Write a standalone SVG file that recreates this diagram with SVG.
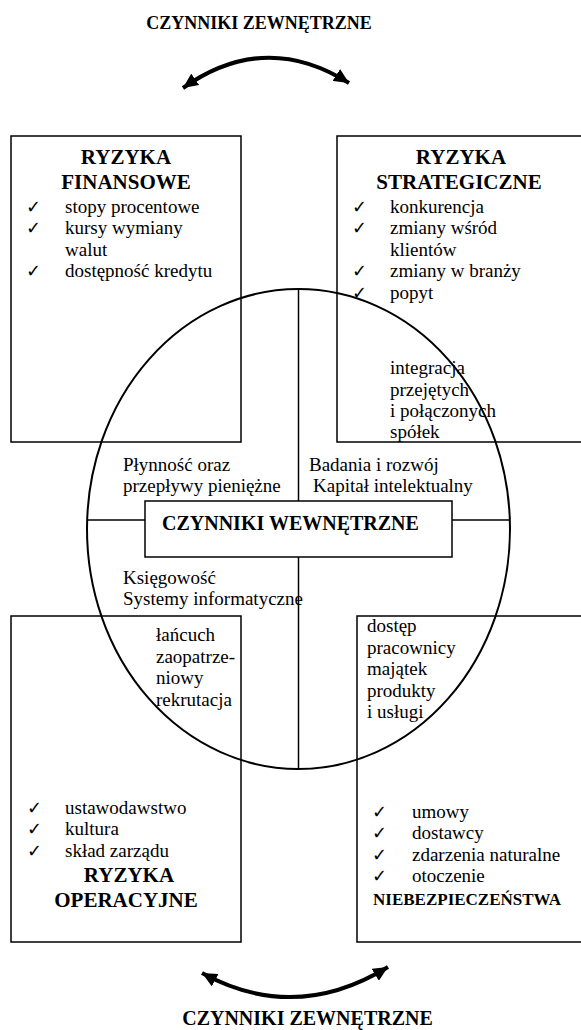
<svg xmlns="http://www.w3.org/2000/svg" width="581" height="1030" viewBox="0 0 581 1030">
<style>
text{font-family:"Liberation Serif","Times New Roman",serif;fill:#000}
.t{font-size:19px}
.h{font-size:21px;font-weight:bold;text-anchor:middle}
.ck{font-family:"DejaVu Sans",sans-serif;font-size:18px}
.box{fill:none;stroke:#000;stroke-width:1.5}
.ln{stroke:#000;stroke-width:1.5;fill:none}
.arr{fill:none;stroke:#000;stroke-width:4;marker-start:url(#ah);marker-end:url(#ah)}
</style>
<defs>
<marker id="ah" markerUnits="userSpaceOnUse" markerWidth="16" markerHeight="14" refX="15" refY="7" orient="auto-start-reverse">
<path d="M0,0 L15,7 L0,14 z" fill="#000"/>
</marker>
</defs>
<g id="connectors">
<path class="arr" d="M183,88 Q265,30 349,83"/>
<path class="arr" d="M202,973 Q295,1024 388,967"/>
</g>
<g id="circle">
<ellipse cx="298.5" cy="529" rx="211.5" ry="240" fill="none" stroke="#000" stroke-width="2"/>
<line class="ln" x1="298.5" y1="289" x2="298.5" y2="769"/>
<line class="ln" x1="87" y1="520" x2="510" y2="520"/>
</g>
<g id="top-title"><text x="259" y="29" style="font-size:18px;font-weight:bold;text-anchor:middle">CZYNNIKI ZEWNĘTRZNE</text></g>
<g id="bottom-title"><text x="307.5" y="1025" style="font-size:20px;font-weight:bold;text-anchor:middle">CZYNNIKI ZEWNĘTRZNE</text></g>
<g id="finansowe">
<rect class="box" x="11" y="136" width="230" height="306"/>
<text class="h" x="126" y="164">RYZYKA</text>
<text class="h" x="126" y="189">FINANSOWE</text>
<text class="ck" x="26" y="212.5">✓</text><text class="t" x="65" y="212.5">stopy procentowe</text>
<text class="ck" x="26" y="234">✓</text><text class="t" x="65" y="234">kursy wymiany</text>
<text class="t" x="65" y="255.5">walut</text>
<text class="ck" x="26" y="277">✓</text><text class="t" x="65" y="277">dostępność kredytu</text>
</g>
<g id="strategiczne">
<rect class="box" x="337" y="136" width="250" height="306"/>
<text class="h" x="461" y="164">RYZYKA</text>
<text class="h" x="459" y="189">STRATEGICZNE</text>
<text class="ck" x="352" y="212.5">✓</text><text class="t" x="390" y="212.5">konkurencja</text>
<text class="ck" x="352" y="234">✓</text><text class="t" x="390" y="234">zmiany wśród</text>
<text class="t" x="390" y="255.5">klientów</text>
<text class="ck" x="352" y="277">✓</text><text class="t" x="390" y="277">zmiany w branży</text>
<text class="ck" x="352" y="298.5">✓</text><text class="t" x="390" y="298.5">popyt</text>
<text class="t" x="390" y="374">integracja</text>
<text class="t" x="390" y="395.5">przejętych</text>
<text class="t" x="390" y="417">i połączonych</text>
<text class="t" x="390" y="438">spółek</text>
</g>
<g id="operacyjne">
<rect class="box" x="11" y="616" width="230" height="326"/>
<text class="t" x="156" y="641">łańcuch</text>
<text class="t" x="156" y="662.5">zaopatrze-</text>
<text class="t" x="156" y="684">niowy</text>
<text class="t" x="156" y="705.5">rekrutacja</text>
<text class="ck" x="27" y="813.5">✓</text><text class="t" x="65" y="813.5">ustawodawstwo</text>
<text class="ck" x="27" y="835">✓</text><text class="t" x="65" y="835">kultura</text>
<text class="ck" x="27" y="856.5">✓</text><text class="t" x="65" y="856.5">skład zarządu</text>
<text class="h" x="129" y="882">RYZYKA</text>
<text class="h" x="126" y="907">OPERACYJNE</text>
</g>
<g id="niebezpieczenstwa">
<rect class="box" x="357" y="616" width="230" height="326"/>
<text class="t" x="367" y="632">dostęp</text>
<text class="t" x="367" y="653.5">pracownicy</text>
<text class="t" x="367" y="675">majątek</text>
<text class="t" x="367" y="696.5">produkty</text>
<text class="t" x="367" y="718">i usługi</text>
<text class="ck" x="372" y="817.5">✓</text><text class="t" x="412" y="817.5">umowy</text>
<text class="ck" x="372" y="839">✓</text><text class="t" x="412" y="839">dostawcy</text>
<text class="ck" x="372" y="860.5">✓</text><text class="t" x="412" y="860.5">zdarzenia naturalne</text>
<text class="ck" x="372" y="882">✓</text><text class="t" x="412" y="882">otoczenie</text>
<text x="373" y="904.5" style="font-size:17px;font-weight:bold">NIEBEZPIECZEŃSTWA</text>
</g>
<g id="wewnetrzne">
<text class="t" x="123" y="471">Płynność oraz</text>
<text class="t" x="123" y="492">przepływy pieniężne</text>
<text class="t" x="309" y="471">Badania i rozwój</text>
<text class="t" x="313" y="492">Kapitał intelektualny</text>
<rect x="145" y="501" width="307" height="56" fill="#fff" stroke="#000" stroke-width="1.5"/>
<text x="162" y="530" style="font-size:20px;font-weight:bold">CZYNNIKI WEWNĘTRZNE</text>
<text class="t" x="123" y="583.5">Księgowość</text>
<text class="t" x="123" y="605">Systemy informatyczne</text>
</g>
</svg>
